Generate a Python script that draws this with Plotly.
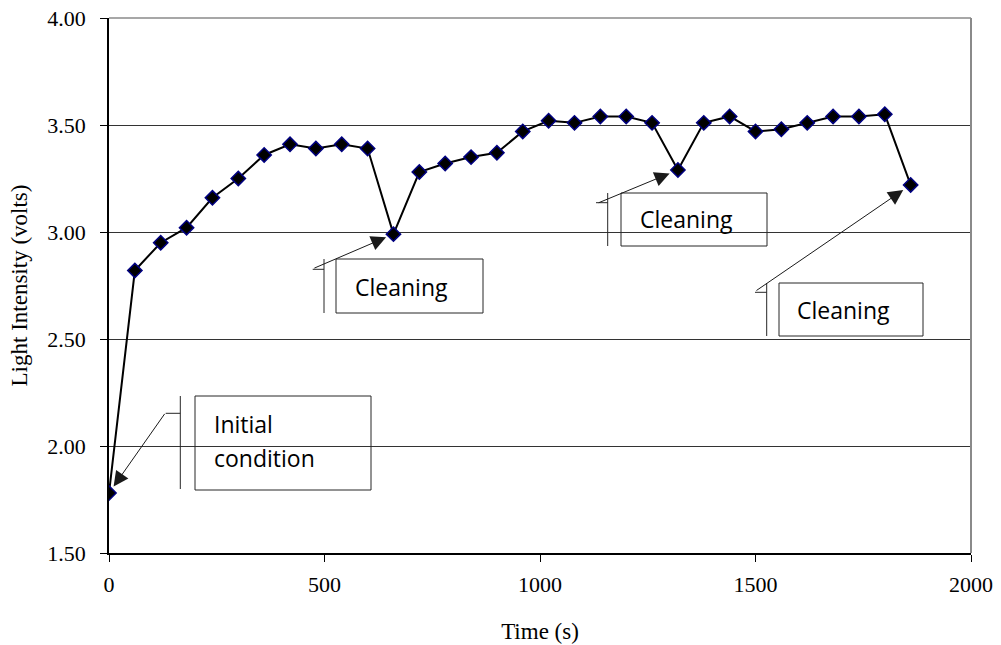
import plotly.graph_objects as go

# ---- data ----
time_s = [0, 60, 120, 180, 240, 300, 360, 420, 480, 540, 600, 660, 720, 780, 840, 900,
          960, 1020, 1080, 1140, 1200, 1260, 1320, 1380, 1440, 1500, 1560, 1620, 1680,
          1740, 1800, 1860]
light_volts = [1.78, 2.82, 2.95, 3.02, 3.16, 3.25, 3.36, 3.41, 3.39, 3.41, 3.39, 2.99,
               3.28, 3.32, 3.35, 3.37, 3.47, 3.52, 3.51, 3.54, 3.54, 3.51, 3.29, 3.51,
               3.54, 3.47, 3.48, 3.51, 3.54, 3.54, 3.55, 3.22]
callout_texts = ["Initial<br>condition", "Cleaning", "Cleaning", "Cleaning"]
callout_index = [0, 11, 22, 31]
y_ticks = [1.5, 2.0, 2.5, 3.0, 3.5, 4.0]
x_ticks = [0, 500, 1000, 1500, 2000]

# ---- layout geometry (pixels) ----
W, H = 1001, 645
PL, PR, PT, PB = 109, 971, 18, 553


def fx(px):
    return (px - PL) / (PR - PL)


def fy(py):
    return (PB - py) / (PB - PT)


fig = go.Figure()
fig.add_trace(go.Scatter(
    x=time_s, y=light_volts, mode="lines+markers",
    line=dict(color="black", width=2),
    marker=dict(symbol="diamond", size=11, color="black",
                line=dict(color="#000080", width=1.5)),
    showlegend=False, hoverinfo="x+y"))

# callout geometry: box (x0,y0,x1,y1), bar (x, y0, y1), elbow (x, y),
# text (left, [line centre ys]), arrow tail offset (ax, ay), standoff
callouts = [
    dict(box=(195, 396, 371, 490), bar=(180.3, 396, 489), elbow=(165.7, 413.3),
         text=(212, [424, 458]), a=(56.7, -80.7), so=8),
    dict(box=(336, 259, 483, 313), bar=(324, 259, 313), elbow=(312.7, 269.3),
         text=(353, [287]), a=(-80.6, 34.6), so=8),
    dict(box=(621, 193, 767, 246), bar=(607.7, 193, 246), elbow=(596, 202.7),
         text=(638, [219]), a=(-80.7, 33.4), so=9),
    dict(box=(779, 283, 923, 336), bar=(766.7, 283, 336), elbow=(755, 292.3),
         text=(795, [310]), a=(-155.7, 106.6), so=9),
]

shapes = []
annotations = []
for c, txt, idx in zip(callouts, callout_texts, callout_index):
    x0, y0, x1, y1 = c["box"]
    shapes.append(dict(type="rect", xref="paper", yref="paper",
                       x0=fx(x0), x1=fx(x1), y0=fy(y1), y1=fy(y0),
                       line=dict(color="#262626", width=1), fillcolor="rgba(0,0,0,0)"))
    bx, by0, by1 = c["bar"]
    shapes.append(dict(type="line", xref="paper", yref="paper",
                       x0=fx(bx), x1=fx(bx), y0=fy(by0), y1=fy(by1),
                       line=dict(color="#262626", width=1)))
    ex, ey = c["elbow"]
    shapes.append(dict(type="line", xref="paper", yref="paper",
                       x0=fx(ex), x1=fx(bx), y0=fy(ey), y1=fy(ey),
                       line=dict(color="#262626", width=1)))
    tx, tys = c["text"]
    for line_txt, ty in zip(txt.split("<br>"), tys):
        annotations.append(dict(xref="paper", yref="paper", x=fx(tx), y=fy(ty),
                                xanchor="left", yanchor="middle", align="left",
                                text=line_txt, showarrow=False,
                                font=dict(family="Open Sans", size=23, color="black")))
    ax, ay = c["a"]
    annotations.append(dict(xref="x", yref="y", x=time_s[idx], y=light_volts[idx],
                            ax=ax, ay=ay, text="", showarrow=True,
                            arrowhead=2, arrowsize=3, arrowwidth=1,
                            arrowcolor="#1a1a1a", standoff=c["so"]))

# plot border (top and right)
shapes.append(dict(type="line", xref="paper", yref="paper", x0=0, x1=1, y0=1, y1=1,
                   line=dict(color="#8a8a8a", width=1.5)))
shapes.append(dict(type="line", xref="paper", yref="paper", x0=1, x1=1, y0=0, y1=1,
                   line=dict(color="#8a8a8a", width=2)))

tickfont = dict(family="Liberation Serif", size=22, color="black")
titlefont = dict(family="Liberation Serif", size=23, color="black")
fig.update_layout(
    width=W, height=H,
    margin=dict(l=PL, r=W - PR, t=PT, b=H - PB, autoexpand=False),
    paper_bgcolor="white", plot_bgcolor="white",
    shapes=shapes, annotations=annotations,
    xaxis=dict(range=[0, 2000], tickvals=x_ticks, ticks="outside", ticklen=7,
               tickcolor="black", showgrid=False, zeroline=False, automargin=False,
               showline=True, linecolor="black", linewidth=1.5,
               tickfont=tickfont, ticklabelstandoff=4,
               title=dict(text="Time (s)", font=titlefont, standoff=27)),
    yaxis=dict(range=[1.5, 4.0], tickvals=y_ticks, tickformat=".2f", ticks="outside",
               ticklen=7, tickcolor="black", showgrid=True, gridcolor="#333333",
               gridwidth=1, zeroline=False, showline=True, linecolor="black",
               linewidth=1.5, tickfont=tickfont, ticklabelstandoff=10, automargin=False,
               title=dict(text="Light Intensity (volts)", font=titlefont, standoff=13)),
)

fig.write_html("out.html", config={"displayModeBar": False},
               post_script="document.body.style.margin='0';")
